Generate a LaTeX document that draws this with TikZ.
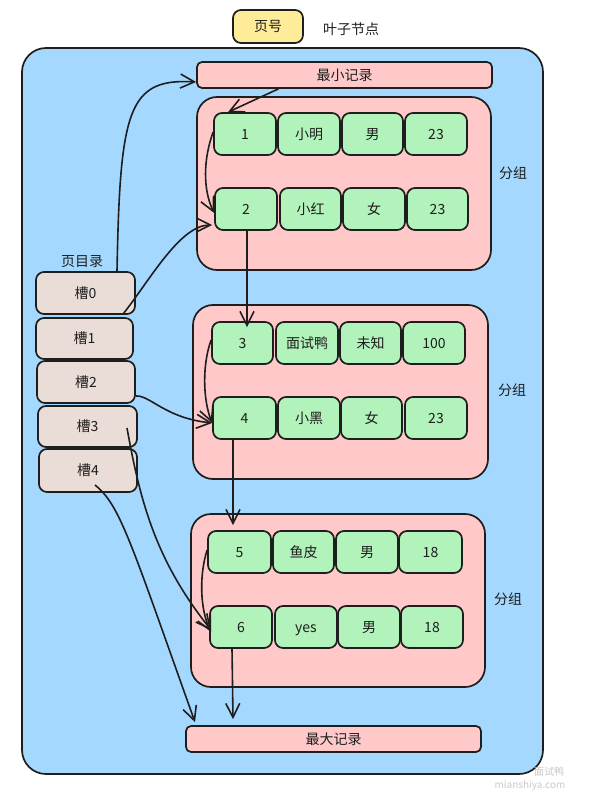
\documentclass[tikz,border=0pt]{standalone}
\usepackage{fontspec}
\setmainfont{Noto Sans CJK SC}
\usetikzlibrary{arrows.meta}
\definecolor{bgblue}{HTML}{A5D8FF}
\definecolor{grppink}{HTML}{FFC9C9}
\definecolor{cellgreen}{HTML}{B2F2BB}
\definecolor{hdryellow}{HTML}{FFEC99}
\definecolor{slotbeige}{HTML}{EADDD7}
\definecolor{ink}{HTML}{1E1E1E}
\definecolor{wmgray}{HTML}{C8C8C8}
\begin{document}
\begin{tikzpicture}[x=1pt,y=-1pt,
  txt/.style={font=\fontsize{14}{16}\selectfont, text=ink, inner sep=0pt},
  box/.style={draw=ink, line width=1.7pt, rounded corners=8pt, inner sep=0pt, txt, text height=12pt, text depth=1.5pt},
  cell/.style={box, fill=cellgreen, minimum height=42pt},
  slotbox/.style={box, fill=slotbeige},
  grp/.style={draw=ink, line width=1.7pt, fill=grppink, rounded corners=20pt, inner sep=0pt},
  rec/.style={box, fill=grppink, rounded corners=5pt, minimum width=295pt, minimum height=26pt},
  conn/.style={draw=ink, line width=1.6pt, -{Straight Barb[length=14pt,width=14pt,line width=1.6pt]}}
]
\useasboundingbox (0,0) rectangle (594,791);

% header
\node[box, fill=hdryellow, minimum width=70pt, minimum height=33pt] (pageno) at (268,26.5) {页号};
\node[txt] (leaf) at (351,29) {叶子节点};

% outer page
\node[draw=ink, line width=1.7pt, fill=bgblue, rounded corners=24pt, minimum width=521pt, minimum height=726pt, inner sep=0pt] (page) at (282.5,411) {};

% min / max records
\node[rec] (minrec) at (344.5,75) {最小记录};
\node[rec] (maxrec) at (333.5,739) {最大记录};

% groups
\node[grp, minimum width=294pt, minimum height=173pt] (g1) at (344,183.5) {};
\node[grp, minimum width=295pt, minimum height=174pt] (g2) at (340.5,392) {};
\node[grp, minimum width=294pt, minimum height=173pt] (g3) at (338,600.5) {};
\node[txt] (g1lab) at (513,173) {分组};
\node[txt] (g2lab) at (512,390) {分组};
\node[txt] (g3lab) at (508,599) {分组};

% row 1
\node[cell, minimum width=62pt] (c11) at (245,134) {1};
\node[cell, minimum width=62pt] (c12) at (309,134) {小明};
\node[cell, minimum width=61pt] (c13) at (372.5,134) {男};
\node[cell, minimum width=62pt] (c14) at (436,134) {23};
% row 2
\node[cell, minimum width=62pt] (c21) at (246,209) {2};
\node[cell, minimum width=61pt] (c22) at (310.5,209) {小红};
\node[cell, minimum width=62pt] (c23) at (374,209) {女};
\node[cell, minimum width=61pt] (c24) at (437.5,209) {23};
% row 3
\node[cell, minimum width=61pt] (c31) at (242.5,343) {3};
\node[cell, minimum width=62pt] (c32) at (307,343) {面试鸭};
\node[cell, minimum width=61pt] (c33) at (370.5,343) {未知};
\node[cell, minimum width=62pt] (c34) at (434,343) {100};
% row 4
\node[cell, minimum width=63pt] (c41) at (244.5,418) {4};
\node[cell, minimum width=62pt] (c42) at (309,418) {小黑};
\node[cell, minimum width=61pt] (c43) at (371.5,418) {女};
\node[cell, minimum width=62pt] (c44) at (436,418) {23};
% row 5
\node[cell, minimum width=63pt] (c51) at (239.5,552) {5};
\node[cell, minimum width=61pt] (c52) at (303.5,552) {鱼皮};
\node[cell, minimum width=62pt] (c53) at (367,552) {男};
\node[cell, minimum width=63pt] (c54) at (430.5,552) {18};
% row 6
\node[cell, minimum width=62pt] (c61) at (241,627) {6};
\node[cell, minimum width=62pt] (c62) at (306,627) {yes};
\node[cell, minimum width=62pt] (c63) at (369,627) {男};
\node[cell, minimum width=62pt] (c64) at (432,627) {18};

% page directory
\node[txt] (dirlab) at (82,262) {页目录};
\node[slotbox, minimum width=99pt, minimum height=42pt] (s0) at (85.5,293) {槽0};
\node[slotbox, minimum width=97pt, minimum height=41pt] (s1) at (84.5,338.5) {槽1};
\node[slotbox, minimum width=98pt, minimum height=42pt] (s2) at (86,382) {槽2};
\node[slotbox, minimum width=99pt, minimum height=41pt] (s3) at (87.5,426.5) {槽3};
\node[slotbox, minimum width=98pt, minimum height=43pt] (s4) at (88,470.5) {槽4};

% connectors
\draw[conn] ([xshift=31.5pt]s0.north) .. controls (120,110) and (128,78) .. ([yshift=-7pt]minrec.west);
\draw[conn] ([xshift=-66pt]minrec.south) -- ([xshift=-17pt]c11.north);
\draw[conn] ([yshift=2pt]c11.west) .. controls (203,160) and (203,190) .. ([yshift=-4pt]c21.west);
\draw[conn] ([xshift=38.5pt,yshift=3pt]s1.north) .. controls (150,280) and (180,225) .. ([xshift=-2pt,yshift=-16pt]c21.west);
\draw[conn] ([xshift=1pt]c21.south) -- ([xshift=4.5pt,yshift=-6pt]c31.north);
\draw[conn] ([yshift=3pt]c31.west) .. controls (202,365) and (203,400) .. ([yshift=-5pt]c41.west);
\draw[conn] ([yshift=-14pt]s2.east) .. controls (150,395) and (165,418) .. ([yshift=-5pt]c41.west);
\draw[conn] ([xshift=-11.5pt]c41.south) -- ([xshift=-6.5pt,yshift=5pt]c51.north);
\draw[conn] ([yshift=2pt]c51.west) .. controls (199,575) and (200,610) .. ([xshift=2pt,yshift=-5pt]c61.west);
\draw[conn] ([xshift=39.5pt,yshift=-1.5pt]s3.center) .. controls (140,500) and (155,560) .. ([xshift=2pt,yshift=-3pt]c61.west);
\draw[conn] ([xshift=7pt,yshift=-14.5pt]s4.center) .. controls (120,505) and (130,540) .. ([xshift=-138.5pt,yshift=3pt]maxrec.north);
\draw[conn] ([xshift=-9pt]c61.south) -- ([xshift=-100.5pt,yshift=6pt]maxrec.north);

% watermark
\node[inner sep=0pt, text=wmgray, font=\fontsize{10}{11}\selectfont] (wm1) at (549,772) {面试鸭};
\node[inner sep=0pt, text=wmgray, font=\fontsize{10}{11}\selectfont] (wm2) at (530,786) {mianshiya.com};
\end{tikzpicture}
\end{document}
